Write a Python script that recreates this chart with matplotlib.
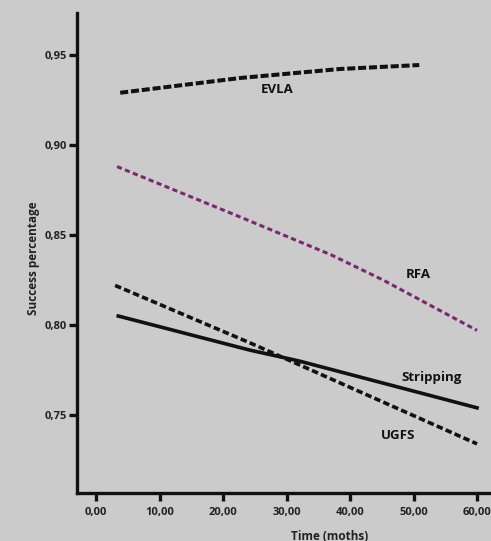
import matplotlib
matplotlib.use("Agg")
import matplotlib.pyplot as plt

# Success percentage over follow-up time for each treatment
evla_t = [3.8, 13.0, 22.7, 38.4, 50.9]
evla_v = [0.929, 0.933, 0.9372, 0.9422, 0.9444]

rfa_t = [3.3, 22.7, 37.0, 45.2, 60.0]
rfa_v = [0.888, 0.860, 0.839, 0.825, 0.797]

strip_t = [3.5, 24.3, 32.0, 60.0]
strip_v = [0.805, 0.786, 0.780, 0.754]

ugfs_t = [3.0, 24.3, 60.0]
ugfs_v = [0.822, 0.790, 0.734]

x_ticks = [0, 10, 20, 30, 40, 50, 60]
x_labels = ["0,00", "10,00", "20,00", "30,00", "40,00", "50,00", "60,00"]
y_ticks = [0.75, 0.80, 0.85, 0.90, 0.95]
y_labels = ["0,75", "0,80", "0,85", "0,90", "0,95"]

bg = "#cbcbcb"
ink = "#111111"
purple = "#7a2a6c"

plt.rcParams["font.family"] = ["Open Sans", "DejaVu Sans"]

fig = plt.figure(figsize=(4.91, 5.41), dpi=100, facecolor=bg)
ax = fig.add_axes([77 / 491, 48 / 541, 414 / 491, 480 / 541], facecolor=bg)

ax.plot(evla_t, evla_v, color=ink, lw=2.9, dashes=(2.0, 0.7))
ax.plot(rfa_t, rfa_v, color=purple, lw=2.2, dashes=(1.7, 1.1))
ax.plot(strip_t, strip_v, color=ink, lw=2.6)
ax.plot(ugfs_t, ugfs_v, color=ink, lw=2.6, dashes=(1.8, 0.9))

ax.set_xlim(-3.0, 62.2)
ax.set_ylim(0.7067, 0.9733)

ax.set_xticks(x_ticks)
ax.set_xticklabels(x_labels)
ax.set_yticks(y_ticks)
ax.set_yticklabels(y_labels)

for s in ("top", "right"):
    ax.spines[s].set_visible(False)
for s in ("left", "bottom"):
    ax.spines[s].set_linewidth(2.4)
    ax.spines[s].set_color(ink)

ax.tick_params(direction="out", length=6, width=2.4, color=ink,
               labelsize=8, labelcolor="#222222")
ax.tick_params(axis="y", pad=1.5)
ax.tick_params(axis="x", pad=4)
for lab in ax.get_xticklabels() + ax.get_yticklabels():
    lab.set_fontweight("bold")

ax.text(28.5, 0.9306, "EVLA", fontsize=9.5, fontweight="bold", color=ink,
        ha="center", va="center")
ax.text(50.7, 0.8278, "RFA", fontsize=9.5, fontweight="bold", color=ink,
        ha="center", va="center")
ax.text(52.9, 0.7711, "Stripping", fontsize=9.5, fontweight="bold", color=ink,
        ha="center", va="center")
ax.text(47.6, 0.7389, "UGFS", fontsize=9.5, fontweight="bold", color=ink,
        ha="center", va="center")

fig.text(33 / 491, 1 - 258 / 541, "Success percentage", rotation=90,
         fontsize=8.5, fontweight="bold", color="#222222",
         ha="center", va="center")
fig.text(330 / 491, 1 - 536 / 541, "Time (moths)", fontsize=8.5,
         fontweight="bold", color="#222222", ha="center", va="center")

fig.savefig("out.png", dpi=100, facecolor=bg)
